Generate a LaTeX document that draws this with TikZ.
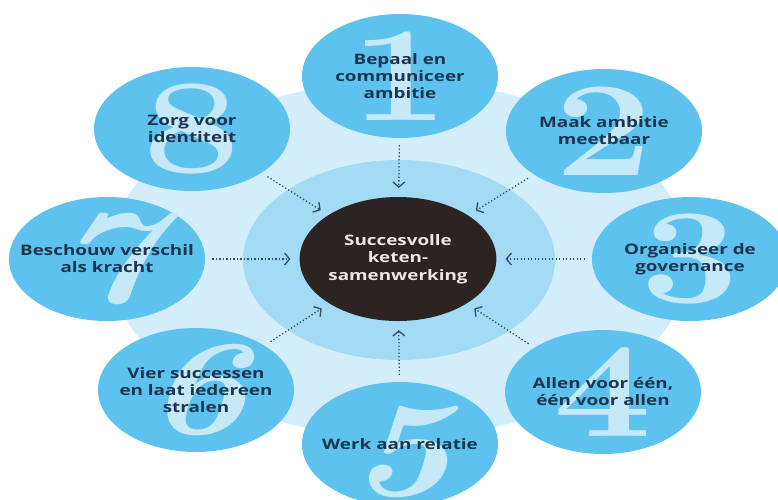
\documentclass[tikz,border=0pt]{standalone}
\usepackage{graphicx}
\usepackage{fontspec}
\usetikzlibrary{shapes.geometric,arrows.meta}
\newfontfamily\labelfont{Open Sans}[FakeStretch=1.3]

\definecolor{paleblue}{HTML}{D3EEFA}
\definecolor{midblue}{HTML}{A3DBF4}
\definecolor{stepblue}{HTML}{5DC3EE}
\definecolor{numblue}{HTML}{C6E9F8}
\definecolor{hubdark}{HTML}{2C2323}
\definecolor{hubtext}{HTML}{EDE8E4}
\definecolor{inktext}{HTML}{1B3550}
\definecolor{dotline}{HTML}{2E4C68}

\tikzset{>={Straight Barb[length=5pt,width=12pt]}}

\begin{document}
\begin{tikzpicture}[x=1pt,y=-1pt]
	\tikzstyle{stepcircle} = [ellipse, fill=stepblue, minimum width=196pt, minimum height=124pt, inner sep=0pt]
	\tikzstyle{numeral} = [text=numblue, font=\bfseries\fontsize{135}{135}\selectfont, inner sep=0pt]
	\tikzstyle{steptext} = [text=inktext, align=center, font=\labelfont\bfseries\fontsize{14.5}{17}\selectfont]
	\tikzstyle{hubnode} = [ellipse, fill=hubdark, text=hubtext, align=center, minimum width=196pt, minimum height=124pt, inner sep=0pt, font=\labelfont\bfseries\fontsize{14.5}{17.5}\selectfont]
	\tikzstyle{spoke} = [->, dotline, line width=1.3pt, dash pattern=on \pgflinewidth off 2.2pt, shorten <=7pt, shorten >=9pt]

	\useasboundingbox (0,0) rectangle (778,499);
	\clip (0,0) rectangle (778,499);
	\fill[white] (0,0) rectangle (778,499);

%----------achtergrond------------------------------
	\fill[paleblue] (399,259) ellipse [x radius=290pt, y radius=178pt];
	\fill[midblue] (399,260) ellipse [x radius=156pt, y radius=100pt];

	\node[hubnode] (hub) at (398,259) {Succesvolle\\keten-\\samenwerking};

%----------stappen------------------------------------
	\node[stepcircle] (s1) at (400,76) {};
	\node[stepcircle] (s2) at (604,131) {};
	\node[stepcircle] (s3) at (690,259) {};
	\node[stepcircle] (s4) at (603,392) {};
	\node[stepcircle] (s5) at (400,444) {};
	\node[stepcircle] (s6) at (196,390) {};
	\node[stepcircle] (s7) at (107,259) {};
	\node[stepcircle] (s8) at (192,129) {};

	\node[numeral] (n1) at (s1) {\scalebox{1.3}[1]{1}};
	\node[numeral] (n2) at (s2) {\scalebox{1.3}[1]{2}};
	\node[numeral] (n3) at (s3) {\scalebox{1.3}[1]{3}};
	\node[numeral] (n4) at (s4) {\scalebox{1.3}[1]{4}};
	\node[numeral] (n5) at ([yshift=-8pt]s5.center) {\scalebox{1.3}[1]{\itshape 5}};
	\node[numeral] (n6) at (s6) {\scalebox{1.3}[1]{\itshape 6}};
	\node[numeral] (n7) at (s7) {\scalebox{1.3}[1]{\itshape 7}};
	\node[numeral] (n8) at (s8) {\scalebox{1.3}[1]{8}};

	\node[steptext] (t1) at (s1) {Bepaal en\\communiceer\\ambitie};
	\node[steptext] (t2) at (s2) {Maak ambitie\\meetbaar};
	\node[steptext] (t3) at (s3) {Organiseer de\\governance};
	\node[steptext] (t4) at (s4) {Allen voor één,\\één voor allen};
	\node[steptext] (t5) at (s5) {Werk aan relatie};
	\node[steptext] (t6) at (s6) {Vier successen\\en laat iedereen\\stralen};
	\node[steptext] (t7) at (s7) {Beschouw verschil\\als kracht};
	\node[steptext] (t8) at (s8) {Zorg voor\\identiteit};

%----------pijlen naar het midden---------------------
	\foreach \s in {s1,s2,s3,s4,s5,s6,s7,s8}
		\path[spoke] (\s) edge (hub);

\end{tikzpicture}
\end{document}
